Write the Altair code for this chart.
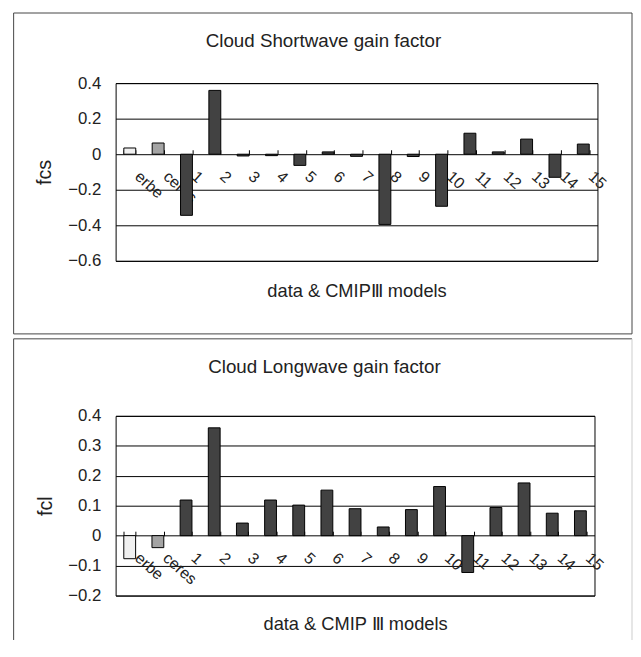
import altair as alt
import pandas as pd

categories = ["erbe", "ceres"] + [str(i) for i in range(1, 16)]
fcs_values = [0.035, 0.063, -0.344, 0.359, -0.010, -0.008, -0.063, 0.013,
              -0.012, -0.395, -0.013, -0.293, 0.118, 0.013, 0.085, -0.130, 0.057]
fcl_values = [-0.077, -0.040, 0.119, 0.360, 0.042, 0.119, 0.102, 0.152,
              0.090, 0.029, 0.087, 0.164, -0.123, 0.094, 0.176, 0.075, 0.083]
fcs_ticks = [0.4, 0.2, 0, -0.2, -0.4, -0.6]
fcl_ticks = [0.4, 0.3, 0.2, 0.1, 0, -0.1, -0.2]
group_domain = ["erbe", "ceres", "model"]
group_colors = ["#f0f0f0", "#a4a4a4", "#424242"]

FONT = "Liberation Sans"
TXT = "#222222"


def panel(values, ticks, ytitle, title, xtitle, width, height,
          frame_left, frame_right, frame_top, frame_bottom, ytitle_pad,
          title_x, title_y, xtitle_y, full_box):
    df = pd.DataFrame({
        "cat": categories,
        "val": values,
        "grp": [c if c in ("erbe", "ceres") else "model" for c in categories],
    })
    ymin, ymax = min(ticks), max(ticks)
    zero_from_top = height * (ymax - 0) / (ymax - ymin)
    zero_from_bottom = height - zero_from_top
    xscale = alt.Scale(domain=categories, paddingInner=0.58, paddingOuter=0.29)
    yscale = alt.Scale(domain=[ymin, ymax], nice=False, zero=False)

    base = alt.Chart(df)
    bars = base.mark_bar(stroke="black", strokeWidth=1).encode(
        x=alt.X("cat:N", sort=categories, scale=xscale,
                axis=alt.Axis(orient="bottom", offset=-zero_from_bottom,
                              domain=False, ticks=False, grid=False,
                              labelAngle=42, labelAlign="left",
                              labelBaseline="top", labelPadding=14,
                              labelOffset=13, labelFontSize=16,
                              labelOverlap=False, labelColor=TXT,
                              title=xtitle, titleFontSize=18.5,
                              titleFontWeight="normal", titleColor=TXT,
                              titleY=xtitle_y, titleBaseline="middle")),
        y=alt.Y("val:Q", scale=yscale,
                axis=alt.Axis(values=ticks, format="~g", grid=True,
                              gridColor="black", gridWidth=1, ticks=False,
                              domain=False, labelFontSize=17, labelPadding=15,
                              labelColor=TXT, title=ytitle, titleFontSize=20,
                              titleFontWeight="normal", titleColor=TXT,
                              titlePadding=ytitle_pad)),
        color=alt.Color("grp:N", scale=alt.Scale(domain=group_domain,
                                                 range=group_colors),
                        legend=None),
    )
    tick_layer = base.mark_bar(opacity=0).encode(
        x=alt.X("cat:N", sort=categories, scale=xscale,
                axis=alt.Axis(orient="top", offset=-zero_from_top,
                              domain=False, labels=False, ticks=True,
                              tickBand="extent", tickSize=4.5,
                              tickColor="black", tickWidth=1, grid=False,
                              title=title, titleX=title_x,
                              titleY=title_y - zero_from_top,
                              titleBaseline="middle", titleAlign="center",
                              titleFontSize=19, titleFontWeight="normal",
                              titleColor=TXT)),
    )
    one = alt.Chart(pd.DataFrame({"k": [0]}))
    if full_box:
        frame = [one.mark_rect(fill="transparent", stroke="#444444",
                               strokeWidth=1).encode(
            x=alt.value(frame_left), x2=alt.value(width + frame_right),
            y=alt.value(frame_top), y2=alt.value(height + frame_bottom))]
    else:
        frame = [
            one.mark_rule(color="#444444", strokeWidth=1).encode(
                x=alt.value(frame_left), x2=alt.value(width + frame_right),
                y=alt.value(frame_top)),
            one.mark_rule(color="#444444", strokeWidth=1).encode(
                x=alt.value(frame_left), y=alt.value(frame_top),
                y2=alt.value(height + frame_bottom)),
            one.mark_rule(color="#cccccc", strokeWidth=1).encode(
                x=alt.value(width + frame_right), y=alt.value(frame_top),
                y2=alt.value(height + frame_bottom)),
        ]
    layered = alt.layer(*frame, tick_layer, bars).resolve_axis(
        x="independent").properties(width=width, height=height)
    return layered


top = panel(fcs_values, fcs_ticks, "fcs", "Cloud Shortwave gain factor",
            "data & CMIPⅢ models", 488, 180,
            frame_left=-103.3, frame_right=35, frame_top=-71, frame_bottom=74,
            ytitle_pad=13, title_x=210, title_y=-43, xtitle_y=138,
            full_box=True)
bottom = panel(fcl_values, fcl_ticks, "fcl", "Cloud Longwave gain factor",
               "data & CMIP Ⅲ models", 485, 182,
               frame_left=-103.3, frame_right=38, frame_top=-78,
               frame_bottom=45, ytitle_pad=12, title_x=211, title_y=-50,
               xtitle_y=89, full_box=False)

chart = alt.vconcat(top, bottom, spacing=3).properties(
    padding={"left": 4, "top": 0, "right": 0, "bottom": 0}
).configure_view(stroke="black", strokeWidth=1).configure_axis(
    labelFont=FONT, titleFont=FONT
)

chart.save("out.html", embed_options={"renderer": "svg", "actions": False})
